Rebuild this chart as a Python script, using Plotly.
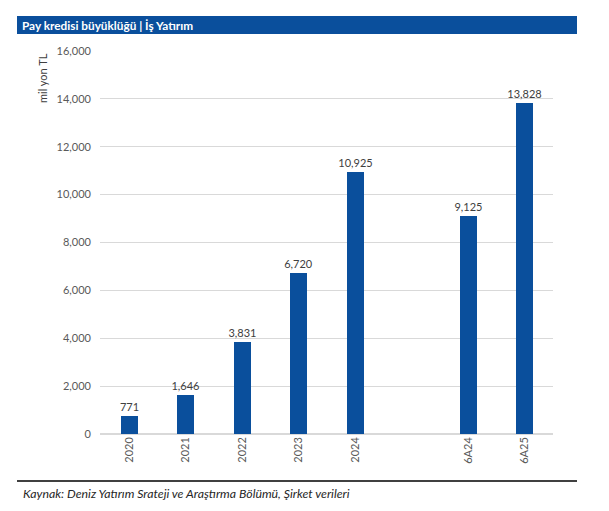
import plotly.graph_objects as go

categories = ["2020", "2021", "2022", "2023", "2024", "6A24", "6A25"]
positions = [0, 1, 2, 3, 4, 6, 7]
values = [771, 1646, 3831, 6720, 10925, 9125, 13828]
labels = ["771", "1,646", "3,831", "6,720", "10,925", "9,125", "13,828"]
y_ticks = [0, 2000, 4000, 6000, 8000, 10000, 12000, 14000, 16000]

W, H = 609, 511
FONT = "Lato, Open Sans, sans-serif"
BLUE = "#0a4f9c"

fig = go.Figure()
fig.add_trace(go.Bar(
    x=positions, y=values, width=0.3,
    marker=dict(color=BLUE, line=dict(width=0)),
    text=labels, textposition="outside", cliponaxis=False, constraintext="none",
    textfont=dict(family=FONT, size=11, color="#404040"),
))

fig.update_layout(
    width=W, height=H,
    margin=dict(l=100, r=56, t=51, b=77),
    paper_bgcolor="white", plot_bgcolor="white",
    showlegend=False,
    bargap=0,
    xaxis=dict(
        range=[-0.52, 7.5], tickmode="array", tickvals=positions, ticktext=categories,
        tickangle=-90, showgrid=False, zeroline=False, showline=False,
        tickfont=dict(family=FONT, size=11, color="#595959"), ticks="", ticklen=0,
    ),
    yaxis=dict(
        range=[0, 16000], tickmode="array", tickvals=y_ticks,
        tickformat=",d", showgrid=True, gridcolor="#d9d9d9", gridwidth=1,
        zeroline=True, zerolinecolor="#d9d9d9", showline=False,
        tickfont=dict(family=FONT, size=11, color="#595959"), ticklabelstandoff=8,
    ),
    shapes=[
        dict(type="rect", xref="paper", yref="paper",
             x0=(17 - 100) / 453, x1=(577 - 100) / 453,
             y0=(434 - 34) / 383, y1=(434 - 16) / 383,
             fillcolor=BLUE, line=dict(width=0), layer="above"),
        dict(type="line", xref="paper", yref="paper",
             x0=(17 - 100) / 453, x1=(577 - 100) / 453,
             y0=(434 - 481) / 383, y1=(434 - 481) / 383,
             line=dict(color="black", width=1.3)),
    ],
    annotations=[
        dict(text="<b>Pay kredisi büyüklüğü | İş Yatırım</b>", xref="paper", yref="paper",
             x=(20 - 100) / 453, y=(434 - 25) / 383, xanchor="left", yanchor="middle",
             showarrow=False, font=dict(family=FONT, size=11.8, color="white")),
        dict(text="mil yon TL", xref="paper", yref="paper", textangle=-90,
             x=(42 - 100) / 453, y=(434 - 78) / 383, xanchor="center", yanchor="middle",
             showarrow=False, font=dict(family=FONT, size=11, color="#404040")),
        dict(text="<i>Kaynak: Deniz Yatırım Srateji ve Araştırma Bölümü, Şirket verileri</i>",
             xref="paper", yref="paper",
             x=(21 - 100) / 453, y=(434 - 493) / 383, xanchor="left", yanchor="middle",
             showarrow=False, font=dict(family=FONT, size=12.3, color="#262626")),
    ],
)

fig.write_html("out.html")
